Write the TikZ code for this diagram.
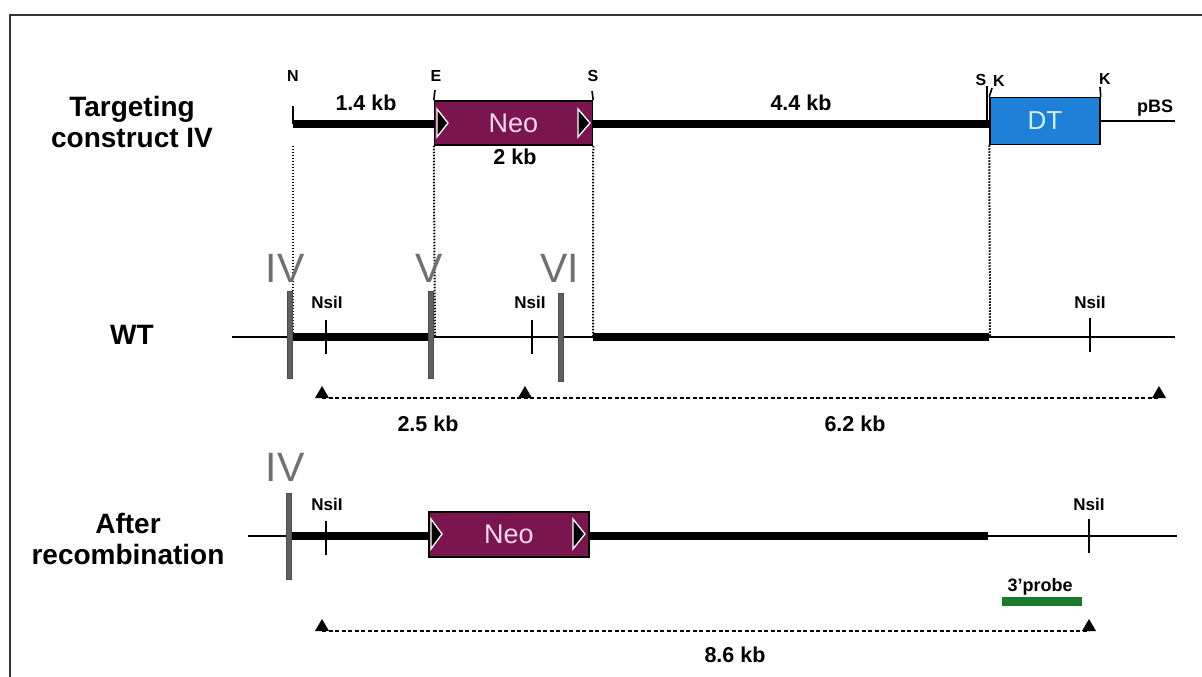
\documentclass[tikz,border=0pt]{standalone}
\usepackage{fontspec}
\setmainfont{Liberation Sans}
\definecolor{neofill}{HTML}{7A1550}
\definecolor{neotext}{HTML}{F5D8EE}
\definecolor{dtfill}{HTML}{1F80D8}
\definecolor{dttext}{HTML}{D0F0FF}
\definecolor{exongray}{HTML}{606060}
\definecolor{labgray}{HTML}{707070}
\definecolor{probegreen}{HTML}{1A7A2A}
\tikzset{
  rowlbl/.style={font=\bfseries\fontsize{28}{31}\selectfont, align=center, inner sep=0pt},
  kblbl/.style={font=\bfseries\fontsize{21.5}{24}\selectfont, inner sep=0pt},
  sitelbl/.style={font=\bfseries\fontsize{16}{18}\selectfont, inner sep=0pt},
  nsilbl/.style={font=\bfseries\fontsize{17}{20}\selectfont, inner sep=0pt},
  exonlbl/.style={font=\fontsize{41}{44}\selectfont, text=labgray, inner sep=0pt},
  thickdna/.style={line width=8pt},
  thindna/.style={line width=2pt},
  ticks/.style={line width=1.6pt},
  guide/.style={line width=2pt, dash pattern=on 1.5pt off 1.5pt},
  sizeline/.style={line width=2pt, dash pattern=on 4pt off 2.5pt},
  neobox/.style={draw=black, line width=1.5pt, fill=neofill, minimum width=158pt, minimum height=44pt, inner sep=0pt, text=neotext, font=\fontsize{27}{30}\selectfont},
  dtbox/.style={draw=black, line width=1.5pt, fill=dtfill, minimum width=110pt, minimum height=47pt, inner sep=0pt, text=dttext, font=\fontsize{26}{30}\selectfont},
  loxp/.style={draw=white, fill=black, line width=1.3pt},
  exonbar/.style={draw=black!70, fill=exongray, line width=0.6pt},
  tri/.style={fill=black}
}
\begin{document}
\begin{tikzpicture}[x=1pt,y=-1pt]
\useasboundingbox (0,0) rectangle (1202,677);
% frame
\draw[line width=2.5pt, black!80] (10,677) -- (10,15) -- (1202,15);

% ---------- row labels
\node[rowlbl] (lblTC) at (132,122) {Targeting\\construct IV};
\node[rowlbl] (lblWT) at (132,335) {WT};
\node[rowlbl] (lblAR) at (128,539) {After\\recombination};

% ---------- targeting construct
\coordinate (cN) at (293,124);
\node[neobox] (neo1) at (513.5,123) {Neo};
\node[dtbox] (dt) at (1045,121) {DT};
\coordinate (pbsEnd) at (1175,121);
\draw[thickdna] (cN) -- (neo1.west |- cN);
\draw[thickdna] (neo1.east |- cN) -- (dt.west |- cN);
\draw[thindna] (dt.east) -- (pbsEnd);
% loxP triangles
\draw[loxp] (437,109) -- (448,123) -- (437,137) -- cycle;
\draw[loxp] (578,109) -- (590,123) -- (578,137) -- cycle;
% site ticks
\draw[ticks] (293,106) -- (cN);
\draw[ticks] (435,90) -- (neo1.north west);
\draw[ticks] (592,91) -- (neo1.north east);
\draw[ticks] (987,86) -- (987,122);
\draw[ticks] (992,88) -- (dt.north west);
\draw[ticks] (1100,87) -- (dt.north east);
\node[sitelbl] (sN) at (293,76) {N};
\node[sitelbl] (sE) at (436,76) {E};
\node[sitelbl] (sS1) at (593,76) {S};
\node[sitelbl] (sS2) at (981,80) {S};
\node[sitelbl] (sK1) at (999,81) {K};
\node[sitelbl] (sK2) at (1105,79) {K};
\node[kblbl] (kb14) at (366,103) {1.4 kb};
\node[kblbl] (kb2) at (515,157) {2 kb};
\node[kblbl] (kb44) at (801,103) {4.4 kb};
\node[font=\bfseries\fontsize{18}{20}\selectfont, inner sep=0pt] (pbs) at (1155,108) {pBS};

% ---------- WT allele
\coordinate (wtL) at (232,337);
\coordinate (wtR) at (1175,337);
\coordinate (w1) at (293,337);
\coordinate (w2) at (430,337);
\coordinate (w3) at (593,337);
\coordinate (w4) at (989,337);
\draw[thindna] (wtL) -- (wtR);
\draw[thickdna] (w1) -- (w2);
\draw[thickdna] (w3) -- (w4);
% dotted alignment guides
\draw[guide] (cN |- neo1.south) -- (w1);
\draw[guide] (neo1.south west) -- (435,337);
\draw[guide] (neo1.south east) -- (w3);
\draw[guide] (dt.south west) -- (990,337);
% exons
\draw[exonbar] (287,291) rectangle (292,378);
\draw[exonbar] (428,291) rectangle (433,378);
\draw[exonbar] (558,293) rectangle (563,381);
\node[exonlbl] (eIV) at (285,268) {IV};
\node[exonlbl] (eV) at (429,268) {V};
\node[exonlbl] (eVI) at (560,268) {VI};
% NsiI sites
\draw[ticks] (326,320) -- (326,354);
\draw[ticks] (532,320) -- (532,354);
\draw[ticks] (1090,318) -- (1090,352);
\node[nsilbl] (n1) at (327,302) {NsiI};
\node[nsilbl] (n2) at (530,302) {NsiI};
\node[nsilbl] (n3) at (1090,302) {NsiI};
% fragment sizes
\coordinate (f1) at (322,398);
\coordinate (f2) at (525,398);
\coordinate (f3) at (1159,398);
\draw[sizeline] (f1) -- (f3);
\foreach \c in {f1,f2,f3}{\fill[tri] ([xshift=-7pt]\c) -- ([xshift=7pt]\c) -- ([yshift=12pt]\c) -- cycle;}
\node[kblbl] (kb25) at (428,424) {2.5 kb};
\node[kblbl] (kb62) at (855,424) {6.2 kb};

% ---------- after recombination
\coordinate (arL) at (248,536);
\coordinate (arR) at (1177,536);
\coordinate (a1) at (291,536);
\coordinate (a4) at (988,536);
\draw[thindna] (arL) -- (arR);
\node[neobox, minimum width=160pt, minimum height=45pt] (neo2) at (509,534.5) {Neo};
\draw[thickdna] (a1) -- (neo2.west |- a1);
\draw[thickdna] (neo2.east |- a1) -- (a4);
\draw[loxp] (431,519) -- (442,534) -- (431,549) -- cycle;
\draw[loxp] (573,519) -- (585,534) -- (573,549) -- cycle;
\draw[exonbar] (286,493) rectangle (291,579);
\node[exonlbl] (eIV2) at (285,467) {IV};
\draw[ticks] (326,521) -- (326,555);
\draw[ticks] (1089,519) -- (1089,553);
\node[nsilbl] (n4) at (327,504) {NsiI};
\node[nsilbl] (n5) at (1089,504) {NsiI};
% probe
\draw[line width=9pt, probegreen] (1002,601) -- (1082,601);
\node[font=\bfseries\fontsize{18}{20}\selectfont, inner sep=0pt] (probe) at (1040,587) {3'probe};
% fragment
\coordinate (g1) at (322,631);
\coordinate (g2) at (1089,631);
\draw[sizeline] (g1) -- (g2);
\foreach \c in {g1,g2}{\fill[tri] ([xshift=-7pt]\c) -- ([xshift=7pt]\c) -- ([yshift=12pt]\c) -- cycle;}
\node[kblbl] (kb86) at (735,655) {8.6 kb};
\end{tikzpicture}
\end{document}
